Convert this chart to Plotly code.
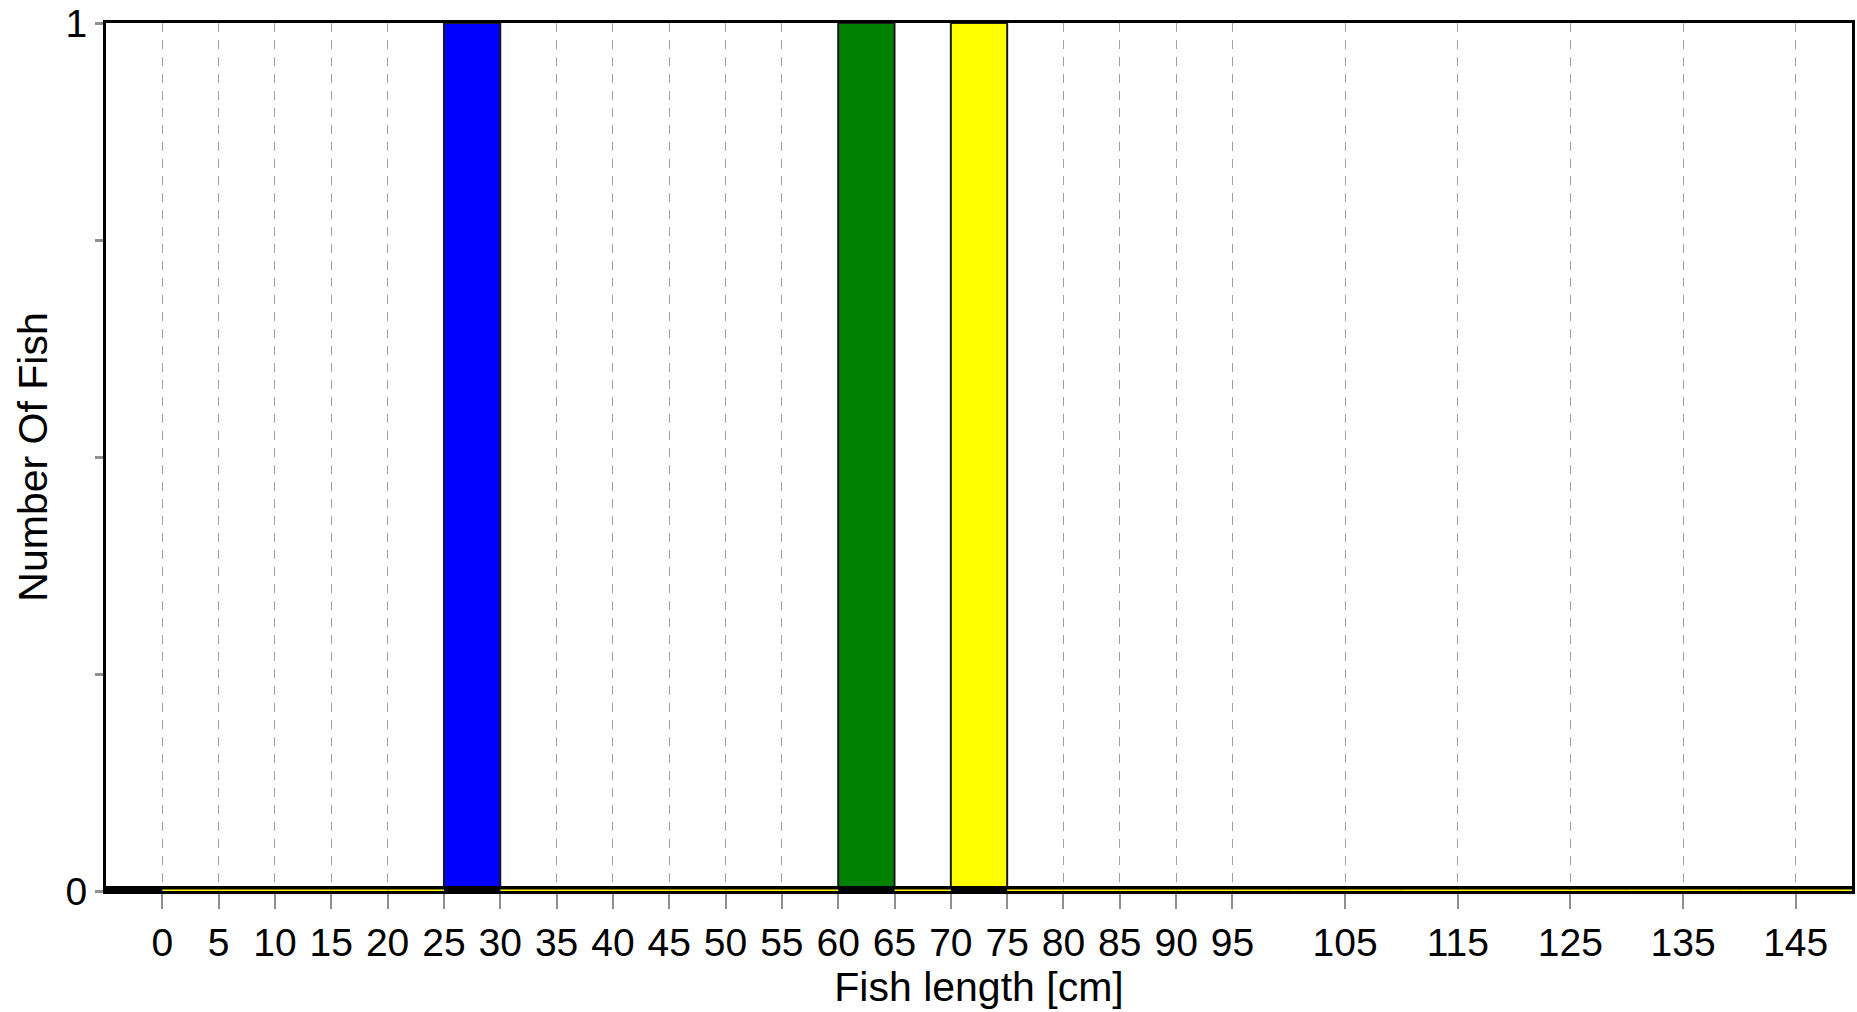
import plotly.graph_objects as go

# ---- data ----
bin_starts = list(range(0, 150, 5))           # length bins [cm], 5 cm wide
blue_counts = [0]*30
green_counts = [0]*30
yellow_counts = [0]*30
blue_counts[bin_starts.index(25)] = 1
green_counts[bin_starts.index(60)] = 1
yellow_counts[bin_starts.index(70)] = 1
series_names = ["Series 1", "Series 2", "Series 3"]
series_colors = ["#0000ff", "#008000", "#ffff00"]
series_values = [blue_counts, green_counts, yellow_counts]

x_tickvals = list(range(0, 100, 5)) + list(range(105, 150, 10))
x_ticktext = [str(v) for v in x_tickvals]
y_tickvals = [0, 0.25, 0.5, 0.75, 1]
y_ticktext = ["0", "", "", "", "1"]
bin_width = 5
x_min, x_max = -5, 150

FONT = "Liberation Sans, Arial, sans-serif"

fig = go.Figure()

# baseline: black under everything
fig.add_trace(go.Scatter(x=[x_min, x_max], y=[0, 0], mode="lines",
                         line=dict(color="black", width=10),
                         hoverinfo="skip", showlegend=False, cliponaxis=False))

# yellow baseline over empty bins
totals = [a + b + c for a, b, c in zip(blue_counts, green_counts, yellow_counts)]
yx, yy = [], []
for s, t in zip(bin_starts, totals):
    if t == 0:
        yx += [s, s + bin_width, None]
        yy += [0, 0, None]
fig.add_trace(go.Scatter(x=yx, y=yy, mode="lines",
                         line=dict(color="#ffff00", width=3),
                         hoverinfo="skip", showlegend=False, cliponaxis=False,
                         connectgaps=False))

for name, col, vals in zip(series_names, series_colors, series_values):
    fig.add_trace(go.Bar(x=bin_starts, y=vals, name=name, width=bin_width, offset=0,
                         marker=dict(color=col, line=dict(color="#1a1a1a", width=2)),
                         showlegend=False))

fig.update_layout(
    width=1857, height=1012,
    margin=dict(l=106, r=2, t=20, b=121),
    paper_bgcolor="white", plot_bgcolor="white",
    barmode="overlay",
    font=dict(family=FONT, size=38, color="black"),
    showlegend=False,
)
fig.update_xaxes(
    range=[x_min, x_max], tickvals=x_tickvals, ticktext=x_ticktext,
    showgrid=True, gridcolor="#a0a0a0", gridwidth=1, griddash="9px,8px",
    ticks="outside", ticklen=15, tickcolor="#909090", tickwidth=2,
    showline=True, linecolor="black", linewidth=3, mirror=True,
    zeroline=False, ticklabeloverflow="allow",
    tickfont=dict(size=39, family=FONT),
    title=dict(text="Fish length [cm]", font=dict(size=41, family=FONT), standoff=0),
)
fig.update_yaxes(
    range=[0, 1], tickvals=y_tickvals, ticktext=y_ticktext,
    showgrid=False, zeroline=False,
    ticks="outside", ticklen=8, tickcolor="#909090", tickwidth=3,
    showline=True, linecolor="black", linewidth=3, mirror=True,
    ticklabeloverflow="allow",
    tickfont=dict(size=39, family=FONT),
    title=dict(text="Number Of Fish", font=dict(size=41, family=FONT), standoff=6),
)

fig.write_html("out.html", config={"displayModeBar": False},
               post_script="document.body.style.margin='0';document.body.style.overflow='hidden';")
